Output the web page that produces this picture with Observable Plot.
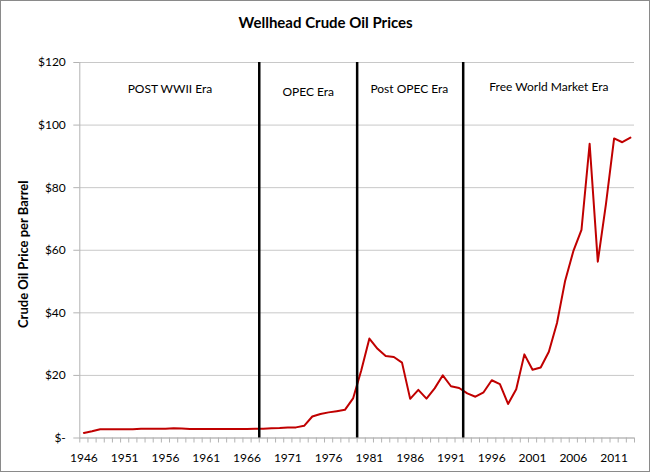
<!DOCTYPE html>
<html>
<head>
<meta charset="utf-8">
<script src="https://cdn.jsdelivr.net/npm/d3@7"></script>
<script src="https://cdn.jsdelivr.net/npm/@observablehq/plot@0.6"></script>
<style>
  html, body { margin: 0; padding: 0; background: #fff; }
  #chart svg { display: block; outline: 1px solid #8a8a8a; outline-offset: -1px; }
</style>
</head>
<body>
<div id="chart"></div>
<script>
const title = "Wellhead Crude Oil Prices";
const yTitle = "Crude Oil Price per Barrel";
const years = d3.range(1946, 2014);
const prices = [
  1.63, 2.16, 2.77, 2.77, 2.77, 2.77, 2.77, 2.92, 2.99, 2.93,
  2.94, 3.14, 3.00, 2.90, 2.88, 2.89, 2.90, 2.89, 2.88, 2.86,
  2.88, 2.92, 2.94, 3.09, 3.18, 3.39, 3.39, 3.89, 6.87, 7.67,
  8.19, 8.57, 9.00, 12.64, 21.59, 31.77, 28.52, 26.19, 25.88, 24.09,
  12.51, 15.40, 12.58, 15.86, 20.03, 16.54, 15.99, 14.25, 13.19, 14.62,
  18.46, 17.23, 10.87, 15.56, 26.72, 21.84, 22.51, 27.56, 36.77, 50.28,
  59.69, 66.52, 94.04, 56.35, 74.71, 95.73, 94.52, 95.99
];
const yTicks = [0, 20, 40, 60, 80, 100, 120];
const xTickLabels = [1946, 1951, 1956, 1961, 1966, 1971, 1976, 1981, 1986, 1991, 1996, 2001, 2006, 2011];
const eraBounds = [1967.5, 1979.5, 1992.5];
const eraNames = ["POST WWII Era", "OPEC Era", "Post OPEC Era", "Free World Market Era"];
const eraLabelX = [1956.55, 1973.5, 1985.9, 2003.0];
const eraLabelY = [111.4, 110.4, 111.4, 112.0];

const data = years.map((yr, i) => ({year: yr, price: prices[i]}));
const eras = eraNames.map((name, i) => ({name, x: eraLabelX[i], y: eraLabelY[i]}));
const catBounds = d3.range(years[0] - 0.5, years[years.length - 1] + 1, 1);

const axisGray = "#b3b3b3";

const chart = Plot.plot({
  width: 650,
  height: 472,
  marginLeft: 79.3,
  marginRight: 16,
  marginTop: 62,
  marginBottom: 34.5,
  style: {fontFamily: "Lato, 'Open Sans', sans-serif", fontSize: "11.5px", color: "#000", background: "#fff"},
  x: {type: "linear", domain: [catBounds[0], catBounds[catBounds.length - 1]], axis: null},
  y: {domain: [0, 120], axis: null},
  marks: [
    Plot.gridY(yTicks, {stroke: "#c8c8c8", strokeOpacity: 1}),
    Plot.axisY(yTicks, {tickSize: 6, tickPadding: 8, stroke: axisGray, strokeOpacity: 1,
      tickFormat: d => d === 0 ? "$-" : "$" + d, fill: "#000", fontSize: 12}),
    Plot.ruleX([catBounds[0]], {stroke: axisGray}),
    Plot.ruleY([0], {stroke: axisGray}),
    Plot.axisX(catBounds, {tickSize: 5, tickFormat: () => "", stroke: axisGray, strokeOpacity: 1}),
    Plot.axisX(xTickLabels, {tickSize: 0, tickPadding: 15, tickFormat: d => String(d), fill: "#000", fontSize: 12}),
    Plot.line(data, {x: "year", y: "price", stroke: "#c00000", strokeWidth: 2}),
    Plot.ruleX(eraBounds, {y1: 0, y2: 120, stroke: "#000", strokeWidth: 2.5}),
    Plot.text(eras, {x: "x", y: "y", text: "name", fill: "#000", fontSize: 12}),
    Plot.text([title], {frameAnchor: "top", dx: -31.5, dy: -45, text: d => d, fontSize: 15, fontWeight: "bold", fill: "#000"}),
    Plot.text([yTitle], {frameAnchor: "left", textAnchor: "middle", dx: -56, dy: 4, rotate: -90, text: d => d, fontSize: 13, fontWeight: "bold", fill: "#000"})
  ]
});
document.getElementById("chart").append(chart);
</script>
</body>
</html>
